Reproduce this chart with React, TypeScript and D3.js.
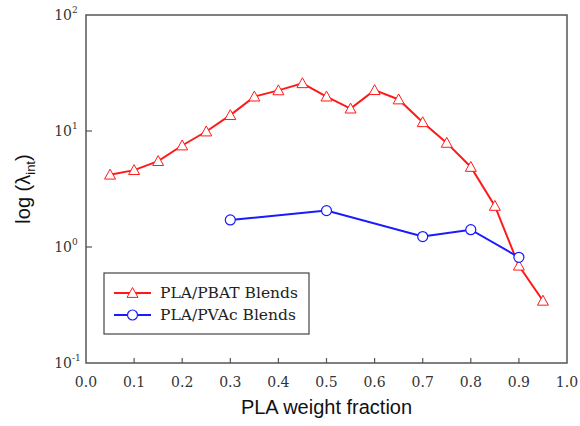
import React from 'react';
import * as d3 from 'd3';

// PLA/PBAT blends
const pbatX = [0.05, 0.1, 0.15, 0.2, 0.25, 0.3, 0.35, 0.4, 0.45, 0.5, 0.55, 0.6, 0.65, 0.7, 0.75, 0.8, 0.85, 0.9, 0.95];
const pbatY = [4.2, 4.6, 5.5, 7.5, 9.9, 13.7, 19.8, 22.4, 25.8, 19.8, 15.6, 22.5, 18.7, 11.9, 7.9, 4.9, 2.26, 0.69, 0.344];

// PLA/PVAc blends
const pvacX = [0.3, 0.5, 0.7, 0.8, 0.9];
const pvacY = [1.71, 2.06, 1.23, 1.41, 0.815];

const xTicks = [0, 0.1, 0.2, 0.3, 0.4, 0.5, 0.6, 0.7, 0.8, 0.9, 1.0];
const yTicks = [0.1, 1, 10, 100];
const yExp = ['-1', '0', '1', '2'];

const seriesNames = ['PLA/PBAT Blends', 'PLA/PVAc Blends'];

const App = () => {
  const width = 580, height = 426;
  const left = 86, right = 567, top = 15, bottom = 363;

  const x = d3.scaleLinear().domain([0, 1]).range([left, right]);
  const y = d3.scaleLog().domain([0.1, 100]).range([bottom, top]);

  const line = d3.line<[number, number]>().x(d => x(d[0])).y(d => y(d[1]));
  const pbat: [number, number][] = pbatX.map((v, i) => [v, pbatY[i]]);
  const pvac: [number, number][] = pvacX.map((v, i) => [v, pvacY[i]]);

  const red = '#ff1a1a', blue = '#1a1aff';
  const tri = (cx: number, cy: number, s = 5.5) =>
    `M${cx},${cy - s} L${cx + s},${cy + s * 0.8} L${cx - s},${cy + s * 0.8} Z`;

  const serif = '"DejaVu Serif", serif';
  const sans = '"Liberation Sans", Arial, sans-serif';

  const legX = 104, legY = 273;

  return (
    <svg width={width} height={height} style={{ position: 'absolute', left: 0, top: 0, background: '#fff' }}>
      <rect x={left} y={top} width={right - left} height={bottom - top} fill="none" stroke="#555" strokeWidth={1.5} />

      {xTicks.map((t, i) => (
        <g key={i}>
          {i > 0 && i < xTicks.length - 1 && (
            <line x1={x(t)} x2={x(t)} y1={bottom} y2={bottom - 5} stroke="#555" strokeWidth={1.2} />
          )}
          <text x={x(t)} y={387} textAnchor="middle" fontFamily={serif} fontSize={14} fill="#333">
            {t.toFixed(1)}
          </text>
        </g>
      ))}

      {yTicks.map((t, i) => (
        <g key={i}>
          {i > 0 && i < yTicks.length - 1 && (
            <line x1={left} x2={left + 6} y1={y(t)} y2={y(t)} stroke="#555" strokeWidth={1.2} />
          )}
          <text x={left - 14} y={y(t) + 5} textAnchor="end" fontFamily={serif} fontSize={14} fill="#333">
            10
          </text>
          <text x={left - 14} y={y(t) - 2} fontFamily={serif} fontSize={9} fill="#333">
            {yExp[i]}
          </text>
        </g>
      ))}

      <text x={(left + right) / 2} y={414} textAnchor="middle" fontFamily={sans} fontSize={20} fill="#111">
        PLA weight fraction
      </text>
      <text transform={`translate(30,${(top + bottom) / 2}) rotate(-90)`} textAnchor="middle" fontFamily={sans} fontSize={20} fill="#111">
        log (λ<tspan fontSize={13} dy={5}>int</tspan><tspan dy={-5}>)</tspan>
      </text>

      <path d={line(pbat) || ''} fill="none" stroke={red} strokeWidth={2} />
      {pbat.map((d, i) => (
        <path key={i} d={tri(x(d[0]), y(d[1]))} fill="#fff" stroke={red} strokeWidth={1} />
      ))}

      <path d={line(pvac) || ''} fill="none" stroke={blue} strokeWidth={2} />
      {pvac.map((d, i) => (
        <circle key={i} cx={x(d[0])} cy={y(d[1])} r={5} fill="#fff" stroke={blue} strokeWidth={1.2} />
      ))}

      <rect x={legX} y={legY} width={205} height={61} fill="#fff" stroke="#444" strokeWidth={1.2} />
      {seriesNames.map((name, i) => {
        const ly = legY + 20 + i * 22;
        return (
          <g key={i}>
            <line x1={legX + 10} x2={legX + 47} y1={ly} y2={ly} stroke={i === 0 ? red : blue} strokeWidth={2} />
            {i === 0 ? (
              <path d={tri(legX + 28.5, ly)} fill="#fff" stroke={red} strokeWidth={1} />
            ) : (
              <circle cx={legX + 28.5} cy={ly} r={5} fill="#fff" stroke={blue} strokeWidth={1.2} />
            )}
            <text x={legX + 56} y={ly + 5} fontFamily={serif} fontSize={15.5} fill="#222">
              {name}
            </text>
          </g>
        );
      })}
    </svg>
  );
};

export default App;
